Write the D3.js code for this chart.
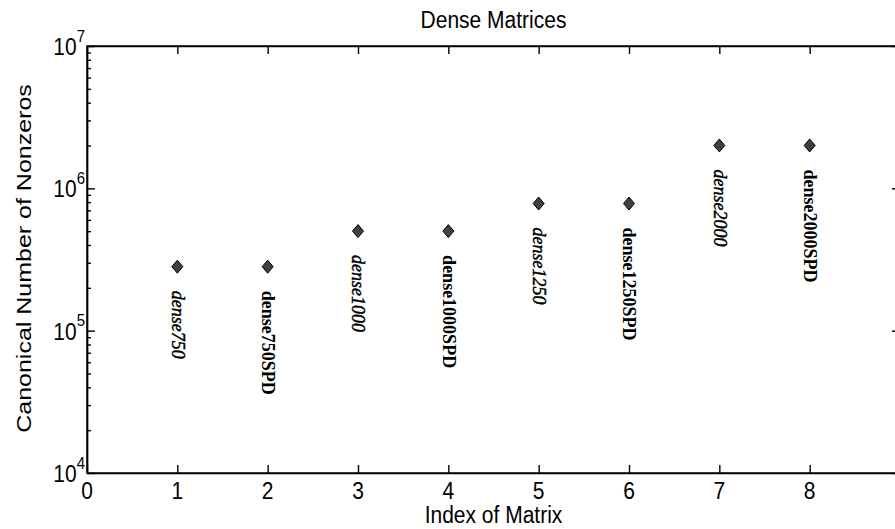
<!DOCTYPE html>
<html>
<head>
<meta charset="utf-8">
<script src="https://cdn.jsdelivr.net/npm/d3@7"></script>
<style>
	body { margin: 0; background: #fff; }
	svg { display: block; }
	.axis path, .axis line { stroke: #000; stroke-width: 1.4; }
	.axis text { display: none; }
	.sans { font-family: "Liberation Sans", Arial, sans-serif; font-size: 21px; }
</style>
</head>
<body>
<div id="viz-holder"></div>
<script>
// matrices
let matrixIndex = [1, 2, 3, 4, 5, 6, 7, 8];
let matrixNames = ["dense750", "dense750SPD", "dense1000", "dense1000SPD",
	"dense1250", "dense1250SPD", "dense2000", "dense2000SPD"];
let nonzeros = [281625, 281625, 500500, 500500, 781875, 781875, 2001000, 2001000];

let xTicks = [0, 1, 2, 3, 4, 5, 6, 7, 8, 9];
let yExponents = [4, 5, 6, 7];

let dataset = matrixIndex.map((d, i) => ({ index: d, name: matrixNames[i], nnz: nonzeros[i] }));

let width = 895, height = 529;
let margin = { left: 87, top: 46, right: 900, bottom: 473 };

let svg = d3.select('#viz-holder')
	.append('svg')
	.attr('width', width)
	.attr('height', height);

let x = d3.scaleLinear().domain([0, 9]).range([margin.left, margin.right]);
let y = d3.scaleLog().domain([1e4, 1e7]).range([margin.bottom, margin.top]);

let majors = yExponents.map(e => Math.pow(10, e));
let minors = y.ticks().filter(v => !majors.some(m => Math.abs(m - v) < 1e-6));

// frame
svg.append('rect')
	.attr('x', margin.left).attr('y', margin.top)
	.attr('width', margin.right - margin.left)
	.attr('height', margin.bottom - margin.top)
	.attr('fill', 'none').attr('stroke', '#000').attr('stroke-width', 1.4);

// x ticks bottom + top, pointing inward
svg.append('g').attr('class', 'axis')
	.attr('transform', 'translate(0,' + margin.bottom + ')')
	.call(d3.axisBottom(x).tickValues(xTicks).tickSize(-8).tickSizeOuter(0));
svg.append('g').attr('class', 'axis')
	.attr('transform', 'translate(0,' + margin.top + ')')
	.call(d3.axisTop(x).tickValues(xTicks).tickSize(-8).tickSizeOuter(0));

// y ticks left + right, major and minor
[[d3.axisLeft, margin.left], [d3.axisRight, margin.right]].forEach(function (a) {
	svg.append('g').attr('class', 'axis')
		.attr('transform', 'translate(' + a[1] + ',0)')
		.call(a[0](y).tickValues(majors).tickSize(-8).tickSizeOuter(0));
	svg.append('g').attr('class', 'axis')
		.attr('transform', 'translate(' + a[1] + ',0)')
		.call(a[0](y).tickValues(minors).tickSize(-4).tickSizeOuter(0));
});

// the original picture is a bit stretched vertically
let sy = 1.1;

// x tick labels
svg.append('g').selectAll('text')
	.data(xTicks.filter(d => d < 9))
	.enter().append('text')
	.attr('class', 'sans')
	.attr('transform', d => 'translate(' + x(d) + ',' + (margin.bottom + 26) + ') scale(1,' + sy + ')')
	.attr('text-anchor', 'middle')
	.text(d => d);

// y tick labels 10^n
let yLab = svg.append('g').selectAll('text')
	.data(yExponents)
	.enter().append('text')
	.attr('class', 'sans')
	.attr('transform', d => 'translate(' + (margin.left - 2) + ',' + (y(Math.pow(10, d)) + 9) + ') scale(1,' + sy + ')')
	.attr('text-anchor', 'end');
yLab.append('tspan').text('10');
yLab.append('tspan').attr('dy', -12).style('font-size', '15px').text(d => d);

// title and axis labels
svg.append('text')
	.attr('class', 'sans')
	.attr('transform', 'translate(' + ((margin.left + margin.right) / 2) + ',28) scale(1,' + sy + ')')
	.attr('text-anchor', 'middle')
	.text('Dense Matrices');

svg.append('text')
	.attr('class', 'sans')
	.attr('transform', 'translate(' + ((margin.left + margin.right) / 2) + ',523) scale(1,' + sy + ')')
	.attr('text-anchor', 'middle')
	.text('Index of Matrix');

svg.append('text')
	.attr('class', 'sans')
	.attr('transform', 'translate(31,' + ((margin.top + margin.bottom) / 2 - 1) + ') rotate(-90) scale(1.19,1)')
	.attr('text-anchor', 'middle')
	.text('Canonical Number of Nonzeros');

// diamond markers
svg.append('g').selectAll('path')
	.data(dataset)
	.enter().append('path')
	.attr('transform', d => 'translate(' + x(d.index) + ',' + y(d.nnz) + ')')
	.attr('d', 'M0,-6.5L5.5,0L0,6.5L-5.5,0Z')
	.attr('fill', '#404040')
	.attr('stroke', '#000')
	.attr('stroke-width', 1);

// rotated names under the markers (plain ones italic, SPD ones bold)
svg.append('g').selectAll('text')
	.data(dataset)
	.enter().append('text')
	.attr('transform', d => 'translate(' + x(d.index) + ',' + (y(d.nnz) + 24) + ') rotate(90)')
	.attr('dy', '0.32em')
	.style('font-family', '"Liberation Serif", "Times New Roman", serif')
	.style('font-size', '18px')
	.style('font-style', d => d.name.endsWith('SPD') ? 'normal' : 'italic')
	.style('font-weight', d => d.name.endsWith('SPD') ? 'bold' : 'normal')
	.attr('stroke', d => d.name.endsWith('SPD') ? 'none' : '#000')
	.attr('stroke-width', 0.45)
	.text(d => d.name);
</script>
</body>
</html>
